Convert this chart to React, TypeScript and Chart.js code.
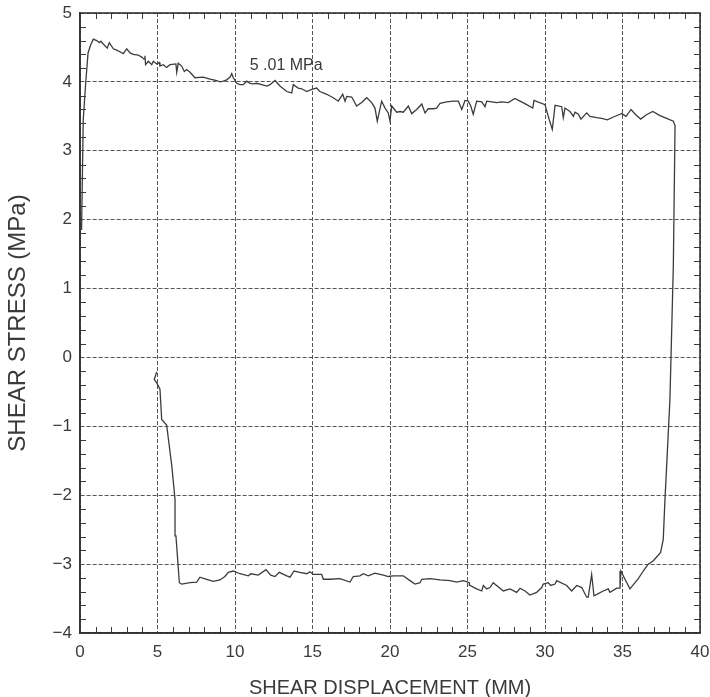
import React, { useEffect, useRef } from 'react';
import { Chart, registerables } from 'chart.js';

Chart.register(...registerables);

// Shear displacement (mm) along the test path
const dispX: number[] = [
  0.10, 0.21, 0.37, 0.52, 0.69, 0.86, 1.08, 1.25, 1.35, 1.50, 1.76, 1.89, 2.15, 2.37, 2.63, 2.79, 3.01, 3.23, 3.44, 3.76,
  3.98, 4.13, 4.19, 4.23, 4.41, 4.63, 4.73, 4.95, 5.12, 5.16, 5.37, 5.59, 5.81, 6.19, 6.24, 6.34, 6.56, 6.73, 6.88, 7.10,
  7.42, 7.95, 8.39, 8.82, 9.03, 9.25, 9.46, 9.68, 9.79, 9.89, 10.11, 10.32, 10.54, 10.75, 10.97, 11.18, 11.40, 11.72, 12.05, 12.26,
  12.58, 12.90, 13.34, 13.66, 13.76, 14.08, 14.30, 14.63, 14.95, 15.27, 15.48, 15.92, 16.34, 16.66, 16.95, 17.10, 17.21, 17.53, 17.85, 18.17,
  18.50, 18.82, 19.03, 19.18, 19.46, 19.68, 19.89, 20.00, 20.11, 20.43, 20.65, 20.86, 21.18, 21.40, 21.72, 22.05, 22.26, 22.47, 22.79, 23.01,
  23.23, 23.66, 24.08, 24.41, 24.63, 24.84, 25.05, 25.21, 25.37, 25.59, 25.92, 26.13, 26.24, 26.56, 26.88, 27.21, 27.63, 28.06, 28.39, 28.82,
  29.21, 29.29, 30.00, 30.21, 30.47, 30.65, 31.08, 31.18, 31.29, 31.61, 31.83, 31.94, 32.15, 32.32, 32.69, 32.90, 33.34, 33.66, 34.02, 34.41,
  34.84, 34.95, 35.23, 35.55, 35.87, 36.17, 36.52, 36.95, 37.42, 37.85, 38.28, 38.39,
  38.28, 38.06, 37.85, 37.74, 37.63, 37.46, 36.99, 36.66, 36.34, 36.02, 35.48, 35.16, 34.90, 34.84, 34.63, 34.19, 34.08, 33.76, 33.34, 33.16,
  33.01, 32.79, 32.69, 32.37, 32.05, 31.72, 31.40, 30.75, 30.65, 30.37, 30.21, 29.89, 29.79, 29.46, 29.03, 28.71, 28.39, 28.17, 27.74, 27.31,
  26.66, 26.45, 26.24, 26.02, 25.92, 25.59, 25.16, 25.12, 24.73, 24.30, 23.87, 23.23, 22.58, 22.05, 21.94, 21.61, 21.29, 20.86, 20.21, 19.89,
  19.57, 19.03, 18.60, 18.28, 18.06, 17.63, 17.42, 16.77, 16.13, 15.70, 15.59, 15.05, 14.84, 14.63, 14.19, 13.81, 13.55, 13.34, 12.86, 12.58,
  12.30, 12.00, 11.50, 11.03, 10.86, 10.32, 9.89, 9.57, 9.35, 9.03, 8.60, 8.17, 7.74, 7.53, 7.10, 6.56, 6.41, 6.19, 6.13, 5.92,
  5.59, 5.27, 5.16, 4.95, 4.79, 4.95,
];

// Shear stress (MPa) at each point of the path
const stress: number[] = [
  1.85, 3.45, 3.99, 4.42, 4.54, 4.62, 4.60, 4.57, 4.59, 4.55, 4.49, 4.57, 4.48, 4.46, 4.43, 4.41, 4.48, 4.42, 4.40, 4.39,
  4.36, 4.33, 4.38, 4.25, 4.30, 4.25, 4.30, 4.26, 4.28, 4.23, 4.25, 4.21, 4.25, 4.26, 4.14, 4.27, 4.23, 4.15, 4.18, 4.14,
  4.06, 4.07, 4.04, 4.02, 4.00, 4.01, 4.03, 4.07, 4.12, 4.06, 3.98, 3.96, 3.96, 4.01, 3.98, 3.97, 3.98, 3.96, 3.94, 3.96,
  4.02, 3.94, 3.86, 3.84, 3.96, 3.91, 3.90, 3.86, 3.89, 3.91, 3.86, 3.82, 3.77, 3.72, 3.82, 3.72, 3.79, 3.78, 3.65, 3.70,
  3.77, 3.70, 3.62, 3.43, 3.72, 3.62, 3.55, 3.43, 3.65, 3.56, 3.57, 3.56, 3.65, 3.54, 3.60, 3.68, 3.55, 3.61, 3.61, 3.62,
  3.69, 3.71, 3.72, 3.72, 3.60, 3.73, 3.72, 3.65, 3.53, 3.72, 3.71, 3.64, 3.72, 3.71, 3.70, 3.71, 3.70, 3.76, 3.72, 3.67,
  3.62, 3.73, 3.67, 3.50, 3.31, 3.66, 3.64, 3.48, 3.62, 3.57, 3.50, 3.56, 3.53, 3.46, 3.55, 3.50, 3.48, 3.47, 3.45, 3.49,
  3.53, 3.54, 3.50, 3.60, 3.52, 3.46, 3.52, 3.57, 3.51, 3.47, 3.43, 3.36,
  1.33, -0.61, -1.57, -2.06, -2.64, -2.83, -2.95, -3.00, -3.10, -3.21, -3.36, -3.22, -3.10, -3.35, -3.35, -3.41, -3.36, -3.39, -3.44, -3.46,
  -3.15, -3.48, -3.48, -3.34, -3.31, -3.39, -3.31, -3.24, -3.29, -3.31, -3.27, -3.29, -3.34, -3.41, -3.45, -3.39, -3.35, -3.41, -3.36, -3.39,
  -3.27, -3.34, -3.36, -3.31, -3.39, -3.36, -3.31, -3.27, -3.24, -3.26, -3.24, -3.23, -3.21, -3.22, -3.27, -3.29, -3.24, -3.17, -3.17, -3.18,
  -3.16, -3.13, -3.17, -3.14, -3.17, -3.18, -3.26, -3.21, -3.22, -3.22, -3.15, -3.15, -3.11, -3.14, -3.12, -3.10, -3.19, -3.17, -3.12, -3.18,
  -3.16, -3.08, -3.16, -3.14, -3.17, -3.14, -3.10, -3.12, -3.18, -3.23, -3.25, -3.22, -3.19, -3.26, -3.27, -3.29, -3.27, -2.59, -2.06, -1.57,
  -0.98, -0.90, -0.46, -0.37, -0.32, -0.21,
];

const xTickValues: number[] = [0, 5, 10, 15, 20, 25, 30, 35, 40];
const yTickValues: number[] = [-4, -3, -2, -1, 0, 1, 2, 3, 4, 5];
const yTickLabels: string[] = ['−4', '−3', '−2', '−1', '0', '1', '2', '3', '4', '5'];

const xAxisTitle = 'SHEAR DISPLACEMENT (MM)';
const yAxisTitle = 'SHEAR STRESS (MPa)';

const annotationText = '5 .01 MPa';
const annotationAt = { x: 10.95, y: 4.24 };

const FONT = "'Liberation Sans', Arial, Helvetica, sans-serif";
const INK = '#3a3a3a';

const framePlugin = {
  id: 'frameAndMinorTicks',
  afterDraw(chart: any) {
    const { ctx, chartArea: a, scales } = chart;
    const xs = scales.x;
    const ys = scales.y;
    ctx.save();
    ctx.strokeStyle = INK;
    ctx.lineWidth = 1;
    ctx.setLineDash([]);
    ctx.beginPath();
    for (let v = 1; v < 40; v++) {
      if (v % 5 === 0) continue;
      const px = Math.round(xs.getPixelForValue(v)) + 0.5;
      ctx.moveTo(px, a.bottom);
      ctx.lineTo(px, a.bottom - 6);
      ctx.moveTo(px, a.top);
      ctx.lineTo(px, a.top + 6);
    }
    for (let i = -20; i < 25; i++) {
      if (i % 5 === 0) continue;
      const py = Math.round(ys.getPixelForValue(i / 5)) + 0.5;
      ctx.moveTo(a.left, py);
      ctx.lineTo(a.left + 6, py);
      ctx.moveTo(a.right, py);
      ctx.lineTo(a.right - 6, py);
    }
    ctx.stroke();
    ctx.lineWidth = 1.6;
    ctx.strokeStyle = '#333';
    ctx.strokeRect(a.left, a.top, a.right - a.left, a.bottom - a.top);
    // annotation
    ctx.fillStyle = INK;
    ctx.font = `16px ${FONT}`;
    ctx.textAlign = 'left';
    ctx.textBaseline = 'middle';
    ctx.fillText(annotationText, xs.getPixelForValue(annotationAt.x), ys.getPixelForValue(annotationAt.y));
    ctx.restore();
  },
};

export default function App() {
  const ref = useRef<HTMLCanvasElement | null>(null);

  useEffect(() => {
    if (!ref.current) return;
    const points = dispX.map((x, i) => ({ x, y: stress[i] }));
    const chart = new Chart(ref.current, {
      type: 'scatter',
      data: {
        datasets: [
          {
            data: points,
            showLine: true,
            borderColor: '#3c3c3c',
            borderWidth: 1.3,
            pointRadius: 0,
            tension: 0,
            fill: false,
          },
        ],
      },
      options: {
        responsive: false,
        animation: false,
        layout: { padding: { top: 13, right: 10, left: 0, bottom: 0 } },
        plugins: { legend: { display: false }, tooltip: { enabled: false } },
        scales: {
          x: {
            type: 'linear',
            min: 0,
            max: 40,
            afterFit: (s: any) => {
              s.height = 64;
              s.paddingLeft = 0;
              s.paddingRight = 0;
            },
            afterBuildTicks: (s: any) => { s.ticks = xTickValues.map((v) => ({ value: v })); },
            ticks: {
              padding: 9,
              color: INK,
              font: { family: FONT, size: 17 },
              callback: (v: any) => String(v),
              maxRotation: 0,
            },
            grid: { color: '#555', lineWidth: 1, drawTicks: false },
            border: { display: true, color: '#333', width: 1.6, dash: [4, 2] },
            title: {
              display: true,
              text: xAxisTitle,
              color: INK,
              font: { family: FONT, size: 20, lineHeight: 1 },
              padding: { top: 0, bottom: -1 },
            },
          },
          y: {
            type: 'linear',
            min: -4,
            max: 5,
            afterFit: (s: any) => {
              s.width = 80;
              s.paddingTop = 0;
              s.paddingBottom = 0;
            },
            afterBuildTicks: (s: any) => { s.ticks = yTickValues.map((v) => ({ value: v })); },
            ticks: {
              padding: 8,
              color: INK,
              font: { family: FONT, size: 17 },
              callback: (v: any) => yTickLabels[yTickValues.indexOf(Number(v))] ?? String(v),
            },
            grid: { color: '#555', lineWidth: 1, drawTicks: false },
            border: { display: true, color: '#333', width: 1.6, dash: [4, 2] },
            title: {
              display: true,
              text: yAxisTitle,
              color: INK,
              font: { family: FONT, size: 24, lineHeight: 1 },
              padding: { top: 6, bottom: 0 },
            },
          },
        },
      },
      plugins: [framePlugin],
    });
    return () => chart.destroy();
  }, []);

  return (
    <div style={{ position: 'absolute', left: 0, top: 0, width: 710, height: 697, background: '#fff' }}>
      <canvas ref={ref} width={710} height={697} style={{ display: 'block', width: 710, height: 697 }} />
    </div>
  );
}
